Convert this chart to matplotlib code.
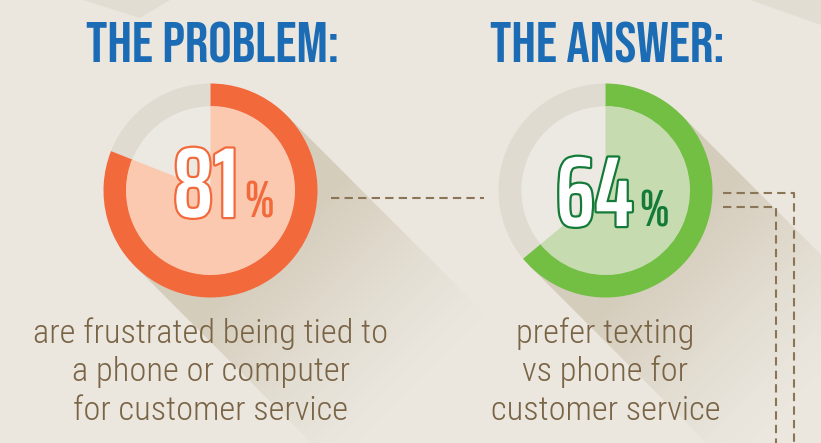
import numpy as np
import matplotlib
matplotlib.use("Agg")
import matplotlib.pyplot as plt
from matplotlib.patches import Wedge, Polygon
from matplotlib import patheffects as pe
from matplotlib.textpath import TextPath
from matplotlib.font_manager import FontProperties

# ---------------- data ----------------
titles = ["THE PROBLEM:", "THE ANSWER:"]
values = [81, 64]
descriptions = [
    ["are frustrated being tied to", "a phone or computer", "for customer service"],
    ["prefer texting", "vs phone for", "customer service"],
]

# ---------------- style / layout ----------------
W, H = 821, 443
BG = "#ebe7df"
ring_col = ["#f26a3c", "#72bf44"]
fill_col = ["#fbc9b0", "#c6dbb0"]
num_edge = ["#f26a3c", "#137a38"]
rest_ring = "#e0dbd1"
rest_fill = "#ece9e2"
title_col = "#1b6cb4"
text_col = "#7a6446"
dash_col = "#8a7556"

cxs = [210.5, 605.5]
cy = 190.5
R = 107
RING = 23
num_base = [217, 226]

NUM_FONT = ["Saira ExtraCondensed", "Bebas Neue"]
NUM_WEIGHT = 600
fp = FontProperties(family=NUM_FONT, weight=NUM_WEIGHT)
ext = TextPath((0, 0), "0123456789", size=100, prop=fp).get_extents()
num_px = 70 / (ext.height / 100)          # digit height ~70 px
num_pt = num_px * 0.72

fig = plt.figure(figsize=(W / 100, H / 100), dpi=100)
fig.patch.set_facecolor(BG)
ax = fig.add_axes([0, 0, 1, 1])
ax.set_xlim(0, W)
ax.set_ylim(H, 0)
ax.axis("off")
ax.set_facecolor(BG)

# faint shadows at the top corners
ax.add_patch(Polygon([(83, 0), (140, 18), (170, 0)], closed=True, fc="#d9d2c3", ec="none", alpha=0.45, zorder=0))
ax.add_patch(Polygon([(750, 0), (821, 25), (821, 0)], closed=True, fc="#d9d2c3", ec="none", alpha=0.45, zorder=0))

# long shadows
X, Y = np.meshgrid(np.arange(W) + 0.5, np.arange(H) + 0.5)
s = np.sqrt(0.5)
for cx in cxs:
    d = ((X - cx) + (Y - cy)) * s
    a = np.clip(1 - (d - R * 0.8) / 200.0, 0, 1) ** 1.3 * 0.5
    img = np.zeros((H, W, 4))
    img[..., 0] = 0xbf / 255
    img[..., 1] = 0xb3 / 255
    img[..., 2] = 0x99 / 255
    img[..., 3] = a
    p1 = (cx + R * s, cy - R * s)
    p2 = (cx - R * s, cy + R * s)
    L = 700
    poly = Polygon([p1, (p1[0] + L, p1[1] + L), (p2[0] + L, p2[1] + L), p2], closed=True,
                   fc="none", ec="none", transform=ax.transData)
    ax.add_patch(poly)
    im = ax.imshow(img, extent=(0, W, H, 0), origin="upper", zorder=1, interpolation="bilinear")
    im.set_clip_path(poly)

# donuts
for i, (cx, v) in enumerate(zip(cxs, values)):
    t1 = -90
    t2 = -90 + 360 * v / 100
    ax.add_patch(Wedge((cx, cy), R, t2, 270, width=RING, fc=rest_ring, ec="none", zorder=2))
    ax.add_patch(Wedge((cx, cy), R - RING, t2, 270, fc=rest_fill, ec="none", zorder=2))
    ax.add_patch(Wedge((cx, cy), R, t1, t2, width=RING, fc=ring_col[i], ec="none", zorder=3))
    ax.add_patch(Wedge((cx, cy), R - RING + 0.5, t1, t2, fc=fill_col[i], ec="none", zorder=3))

    # title
    ax.text(cx + 2, 62, titles[i], ha="center", va="baseline", color=title_col,
            family="Bebas Neue", fontsize=42, zorder=5)

    # percentage
    ax.text(cx + 28, num_base[i], f"{v}", ha="right", va="baseline", color="white",
            family=NUM_FONT, fontweight=NUM_WEIGHT, fontsize=num_pt, zorder=5,
            path_effects=[pe.withStroke(linewidth=3.2, foreground=num_edge[i])])
    ax.text(cx + 34, num_base[i], "%", ha="left", va="baseline", color=num_edge[i],
            family="Bebas Neue", fontsize=36, zorder=5)

    # description
    for j, line in enumerate(descriptions[i]):
        ax.text(cx, 343 + j * 38.5, line, ha="center", va="baseline", color=text_col,
                family="Roboto Condensed", fontweight=300, fontsize=24.8, zorder=5)

# dashed connectors
kw = dict(color=dash_col, lw=1.5, ls=(0, (4, 2.5)), zorder=4, solid_capstyle="butt")
ax.plot([331, 484], [198, 198], **kw)
ax.plot([723, 794, 794], [193, 193, H], **kw)
ax.plot([723, 776, 776], [207, 207, H], **kw)

fig.savefig("out.png", dpi=100, facecolor=BG)
